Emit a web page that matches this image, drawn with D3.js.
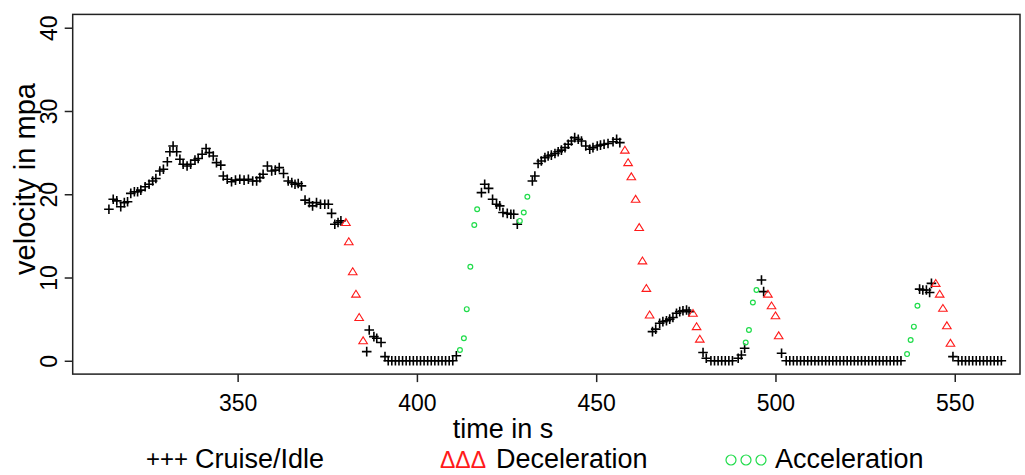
<!DOCTYPE html>
<html>
<head>
<meta charset="utf-8">
<script src="https://cdn.jsdelivr.net/npm/d3@7"></script>
<style>
  html, body { margin: 0; padding: 0; background: #fff; }
  svg { display: block; }
  text { font-family: "Liberation Sans", Arial, sans-serif; fill: #000; }
</style>
</head>
<body>
<svg id="chart" width="1025" height="475"></svg>
<script>
// ---- data (time in s, velocity in mpa) ----
const cruiseTime = [
  314.1,315.3,316.3,317.4,318.4,319.3,320.2,321.2,322.1,323.0,324.2,325.3,326.3,327.2,328.3,329.3,330.4,331.1,332.0,333.0,
  333.9,334.8,335.9,336.9,338.1,339.0,340.1,341.2,342.1,343.2,344.1,345.3,346.0,347.1,348.3,349.4,350.6,351.8,353.0,354.2,
  355.3,356.2,357.1,358.3,359.5,360.5,361.6,362.8,364.1,365.1,366.0,366.9,367.8,368.8,370.0,370.9,372.0,373.1,374.3,375.3,
  376.2,377.1,378.0,378.8,
  386.0,386.7,388.0,388.8,390.0,391.1,
  392,393,394,395,396,397,398,399,400,401,402,403,404,405,406,407,408,409,410,411.0,
  418.0,418.9,420.0,421.1,422.2,423.1,424.0,425.2,426.2,427.0,428.0,
  432.2,432.9,433.8,434.7,435.7,436.6,437.5,438.5,439.4,440.3,441.3,442.2,443.1,444.0,445.0,445.9,447.1,448.2,449.1,450.3,
  451.2,452.2,453.3,454.7,455.7,456.6,
  465.7,466.6,467.7,468.6,469.6,470.5,471.4,472.4,473.3,474.2,475.2,475.9,
  479.8,480.7,482,483,484,485,486,487,488,489.6,490.5,491.4,
  496.1,496.7,
  501.7,503,504,505,506,507,508,509,510,511,512,513,514,515,516,517,518,519,520,521,522,523,524,525,526,527,528,529,530,
  531,532,533,534,535,
  540.2,541.1,542.1,543.0,543.5,
  549.5,551,552,553,554,555,556,557,558,559,560,561,562,563
];
const cruiseVel = [
  18.2,19.4,19.2,18.5,19.0,19.1,20.1,20.3,20.3,20.5,20.9,21.2,21.6,21.9,22.8,23.0,23.9,25.1,25.8,25.1,
  24.2,23.6,23.4,23.6,24.1,24.3,24.8,25.5,25.0,24.6,23.8,23.5,22.2,21.8,21.5,21.7,21.8,21.7,21.8,21.6,
  21.6,22.0,22.4,23.4,22.8,22.9,23.2,22.5,21.6,21.4,21.2,21.3,21.0,19.3,19.0,18.6,19.0,18.8,18.8,18.8,
  17.7,16.4,16.6,16.8,
  1.1,3.7,2.9,2.7,2.2,0.5,
  0,0,0,0,0,0,0,0,0,0,0,0,0,0,0,0,0,0,0,0.6,
  20.2,21.2,20.7,19.4,18.8,18.6,17.8,17.7,17.6,17.6,16.4,
  21.6,22.2,23.7,24.0,24.4,24.6,24.7,24.9,25.1,25.3,25.6,26.0,26.4,26.8,26.6,26.4,25.8,25.4,25.6,25.8,
  25.9,26.0,26.1,26.3,26.6,26.2,
  3.5,3.8,4.5,4.7,4.8,5.0,5.2,5.7,5.9,6.0,6.1,5.9,
  1.0,0.3,0,0,0,0,0,0,0,0.3,0.7,1.5,
  9.7,8.3,
  0.9,0,0,0,0,0,0,0,0,0,0,0,0,0,0,0,0,0,0,0,0,0,0,0,0,0,0,0,0,
  0,0,0,0,0,
  8.6,8.5,8.5,8.2,9.3,
  0.5,0,0,0,0,0,0,0,0,0,0,0,0,0
];
const decelTime = [
  380.2,381.0,382.1,383.0,383.9,385.0,
  458.0,458.9,459.8,461.0,462.0,462.9,464.0,464.9,
  477.0,478.0,478.9,
  497.9,498.9,500.0,500.9,
  544.7,545.8,546.7,547.8,548.8
];
const decelVel = [
  16.6,14.3,10.7,8.0,5.2,2.4,
  25.3,23.8,22.1,19.4,16.0,12.0,8.7,5.5,
  5.7,4.1,2.6,
  8.0,6.6,5.4,3.0,
  9.3,8.0,6.3,4.2,2.1
];
const accelTime = [
  412.0,413.1,413.9,414.9,416.0,416.8,
  428.7,429.8,430.8,
  491.7,492.6,493.7,494.7,
  536.7,537.7,538.6,539.6
];
const accelVel = [
  1.3,2.7,6.2,11.3,16.3,18.2,
  16.8,17.8,19.7,
  2.2,3.7,7.0,8.5,
  0.8,2.5,4.1,6.6
];
const xTicks = [350, 400, 450, 500, 550];
const yTicks = [0, 10, 20, 30, 40];
const legendLabels = ["Cruise/Idle", "Deceleration", "Acceleration"];
const xTitle = "time in s";
const yTitle = "velocity in mpa";

// ---- drawing ----
const svg = d3.select("#chart");
const x = d3.scaleLinear().domain([304, 568.2]).range([72.7, 1020]);
const y = d3.scaleLinear().domain([-1.6, 41.6]).range([374.1, 14.4]);
const axisColor = "#222";

// box
svg.append("rect")
  .attr("x", x.range()[0]).attr("y", y.range()[1])
  .attr("width", x.range()[1] - x.range()[0])
  .attr("height", y.range()[0] - y.range()[1])
  .attr("fill", "none").attr("stroke", axisColor).attr("stroke-width", 1.5);

// x axis
const gx = svg.append("g").attr("transform", `translate(0,${y.range()[0]})`)
  .call(d3.axisBottom(x).tickValues(xTicks).tickSize(8).tickSizeOuter(0).tickPadding(13).tickFormat(d3.format("d")));
gx.select(".domain").remove();
gx.selectAll(".tick line").attr("stroke", axisColor).attr("stroke-width", 1.5);
gx.selectAll(".tick text").attr("font-size", 23).attr("fill", "#000")
  .attr("font-family", "'Liberation Sans', Arial, sans-serif");

// y axis
const gy = svg.append("g").attr("transform", `translate(${x.range()[0]},0)`)
  .call(d3.axisLeft(y).tickValues(yTicks).tickSize(8).tickSizeOuter(0).tickFormat(d3.format("d")));
gy.select(".domain").remove();
gy.selectAll(".tick line").attr("stroke", axisColor).attr("stroke-width", 1.5);
gy.selectAll(".tick text")
  .attr("font-size", 23).attr("fill", "#000")
  .attr("font-family", "'Liberation Sans', Arial, sans-serif")
  .attr("x", null).attr("dy", null)
  .attr("text-anchor", "middle")
  .attr("transform", "translate(-16,0) rotate(-90)");

// titles
svg.append("text").attr("x", 503).attr("y", 438).attr("text-anchor", "middle")
  .attr("font-size", 27).text(xTitle);
svg.append("text").attr("transform", "translate(35,179) rotate(-90)").attr("text-anchor", "middle")
  .attr("font-size", 29).text(yTitle);

// points
const plot = svg.append("g");
const cruise = cruiseTime.map((t, i) => ({t, v: cruiseVel[i]}));
const decel = decelTime.map((t, i) => ({t, v: decelVel[i]}));
const accel = accelTime.map((t, i) => ({t, v: accelVel[i]}));

plot.selectAll("path.cruise").data(cruise).enter().append("path")
  .attr("class", "cruise")
  .attr("d", "M-4.8,0H4.8M0,-4.8V4.8")
  .attr("transform", d => `translate(${x(d.t)},${y(d.v)})`)
  .attr("stroke", "#000").attr("stroke-width", 1.6).attr("fill", "none");

plot.selectAll("path.decel").data(decel).enter().append("path")
  .attr("class", "decel")
  .attr("d", "M0,-3.9L4.3,3L-4.3,3Z")
  .attr("transform", d => `translate(${x(d.t)},${y(d.v)})`)
  .attr("stroke", "#ff1a1a").attr("stroke-width", 1.1).attr("fill", "none");

plot.selectAll("circle.accel").data(accel).enter().append("circle")
  .attr("class", "accel")
  .attr("cx", d => x(d.t)).attr("cy", d => y(d.v)).attr("r", 2.4)
  .attr("stroke", "#1fdc4a").attr("stroke-width", 1.2).attr("fill", "none");

// legend
const lg = svg.append("g");
lg.append("text").attr("x", 146).attr("y", 467).attr("font-size", 24).text("+++");
lg.append("text").attr("x", 195).attr("y", 468).attr("font-size", 27).text(legendLabels[0]);
lg.append("text").attr("x", 440).attr("y", 468).attr("font-size", 23).style("fill", "#ff1a1a").text("\u0394\u0394\u0394");
lg.append("text").attr("x", 496).attr("y", 468).attr("font-size", 27).text(legendLabels[1]);
[731, 746, 761].forEach(cx => lg.append("circle").attr("cx", cx).attr("cy", 460).attr("r", 5)
  .attr("fill", "none").attr("stroke", "#1fdc4a").attr("stroke-width", 1.2));
lg.append("text").attr("x", 775).attr("y", 468).attr("font-size", 27).text(legendLabels[2]);
</script>
</body>
</html>
